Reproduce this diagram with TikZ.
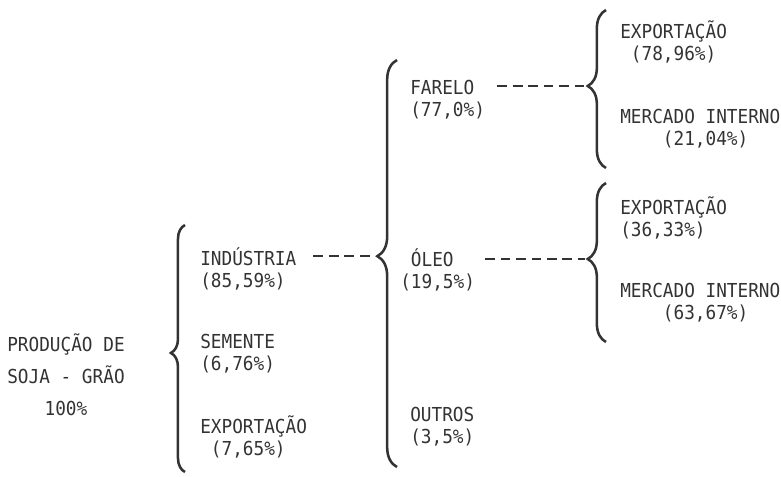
\documentclass[tikz,border=0pt]{standalone}
\usepackage{fontspec}
\usetikzlibrary{decorations.pathreplacing}
\newfontfamily\maqfont{DejaVu Sans Mono}[FakeStretch=0.92]
\definecolor{tinta}{gray}{0.2}

\begin{document}
\begin{tikzpicture}[x=0.025cm, y=-0.025cm,
	every node/.style={font=\maqfont\fontsize{13.7}{15.6}\selectfont, text=tinta, inner sep=0pt},
	item/.style={anchor=west, align=left},
	curly/.style 2 args={decorate, draw=tinta, line width=1.8pt, decoration={brace, amplitude=#1, aspect=#2}},
	link/.style={draw=tinta, line width=1.2pt, dash pattern=on 7pt off 4pt, shorten >=2pt}]
	\useasboundingbox (0,0) rectangle (781,476);
	% soja em grao
	\node[align=center] (soja) at (66,375) {PRODUÇÃO DE\\[7pt]SOJA - GRÃO\\[7pt]100\%};
	\draw[curly={10pt}{0.482}] (185,472) -- (185,225);
	\node[item] (ind) at (200,269) {INDÚSTRIA\\(85,59\%)};
	\node[item] (sem) at (200,354) {SEMENTE\\(6,76\%)};
	\node[item] (exp) at (200,437) {EXPORTAÇÃO\\\hphantom{0}(7,65\%)};
	% industria
	\draw[curly={14pt}{0.518}] (397,467) -- (397,60);
	\coordinate (b2) at (377,256);
	\node[item] (far) at (410,100) {FARELO\\(77,0\%)};
	\node[item] (ole) at (400,270) {\hphantom{0}ÓLEO\\(19,5\%)};
	\node[item] (out) at (410,427) {OUTROS\\(3,5\%)};
	% farelo e oleo
	\draw[curly={13pt}{0.519}] (606,168) -- (606,10);
	\draw[curly={13pt}{0.522}] (606,342) -- (606,183);
	\coordinate (b3) at (588,86);
	\coordinate (b4) at (588,259);
	\node[item] (fexp) at (620,42) {EXPORTAÇÃO\\\hphantom{0}(78,96\%)};
	\node[item] (fmi) at (620,129) {MERCADO INTERNO\\\hphantom{0000}(21,04\%)};
	\node[item] (oexp) at (620,218) {EXPORTAÇÃO\\(36,33\%)};
	\node[item] (omi) at (620,303) {MERCADO INTERNO\\\hphantom{0000}(63,67\%)};
	\draw[link, shorten <=12pt] (ind.east |- b2) -- (b2);
	\draw[link, shorten <=8.5pt] (far.east |- b3) -- (b3);
	\draw[link, shorten <=7pt] (ole.east |- b4) -- (b4);
\end{tikzpicture}
\end{document}
